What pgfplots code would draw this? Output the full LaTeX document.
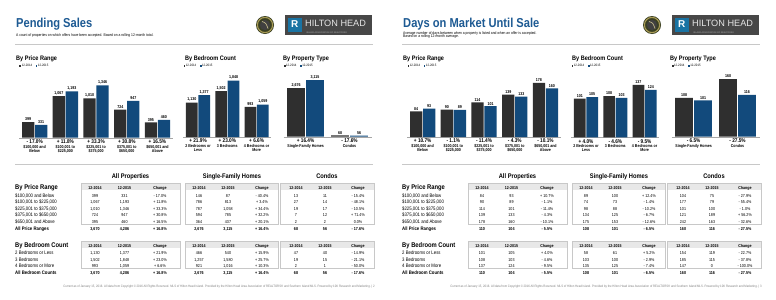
\documentclass[border=0pt]{standalone}
\usepackage{pgfplots}
\pgfplotsset{compat=1.18}
\usepackage{fontspec}
\setmainfont[FakeStretch=0.86]{Liberation Sans}
\newfontfamily\widefont{Liberation Sans}
\definecolor{darkbar}{HTML}{2F2F2F}
\definecolor{bluebar}{HTML}{124A7C}
\definecolor{titleblue}{HTML}{1D5A93}
\definecolor{rulegray}{HTML}{C8C8C8}
\definecolor{hdrgray}{HTML}{E8E8E8}
\definecolor{logogreen}{HTML}{3A3F22}
\definecolor{logogold}{HTML}{A89B55}
\newcommand\fs[1]{\fontsize{#1}{#1}\selectfont}

\pgfplotsset{
 bc/.style={
  ybar=#1, scale only axis, clip=false,
  axis x line*=bottom, axis y line=none,
  x axis line style={draw=gray!70, line width=0.4bp},
  ymin=0, major tick length=0pt,
  xticklabel style={align=center, font=\fs{4.2}\bfseries, inner sep=0.6bp, yshift=-1.2bp},
  nodes near coords,
  every node near coord/.append style={font=\fs{4.2}\bfseries, text=black, inner sep=1bp},
  /pgf/number format/assume math mode=true,
  /pgf/number format/1000 sep={,},
  legend columns=2,
  legend style={at={(0,1)}, anchor=south west, draw=none, fill=none, font=\fs{3.3},
    inner sep=0pt, yshift=1.5bp, /tikz/every even column/.append style={column sep=3bp},
    nodes={inner sep=0.5bp}},
  legend image code/.code={\fill[##1] (0bp,-0.9bp) rectangle (1.8bp,0.9bp);},
 },
 bc/.default=0.7bp,
 dk/.style={fill=darkbar, draw=none},
 bl/.style={fill=bluebar, draw=none},
}

\tikzset{
 tv/.style={anchor=mid, font=\fs{4.3}, inner sep=0},
 tl/.style={anchor=mid west, font=\fs{5}, inner sep=0},
 th/.style={anchor=mid, font=\fs{4.2}\bfseries, inner sep=0},
}
\newcommand\tri[7]{\node[tv] at (#1,#4) {#5};\node[tv] at (#2,#4) {#6};\node[tv] at (#3,#4) {#7};}
\newcommand\TA[4]{\tri{95}{124.5}{160}{#1}{#2}{#3}{#4}}
\newcommand\TS[4]{\tri{199}{228}{262}{#1}{#2}{#3}{#4}}
\newcommand\TC[4]{\tri{296}{325}{358}{#1}{#2}{#3}{#4}}
\newcommand\lbl[2]{\node[tl] at (15,#1) {#2};}
\newcommand\tbox[4]{\fill[hdrgray] (#1,#3) rectangle (#2,{#3+6.5});\draw[rulegray, line width=0.5bp] (#1,#3) rectangle (#2,#4);}
\newcommand\hdrs[1]{%
 \node[th] at (95,#1) {12-2014};\node[th] at (124.5,#1) {12-2015};\node[th] at (160,#1) {Change};
 \node[th] at (199,#1) {12-2014};\node[th] at (228,#1) {12-2015};\node[th] at (262,#1) {Change};
 \node[th] at (296,#1) {12-2014};\node[th] at (325,#1) {12-2015};\node[th] at (358,#1) {Change};}
\newcommand\skel{%
 \draw[rulegray, line width=0.8bp] (15,44) -- (373,44);
 \draw[rulegray, line width=0.8bp] (15,164.5) -- (373,164.5);
 \node[anchor=base west, font=\fs{6.5}\bfseries, inner sep=0] at (16,60.8) {By Price Range};
 \node[anchor=base west, font=\fs{6.5}\bfseries, inner sep=0] at (185,60.8) {By Bedroom Count};
 \node[anchor=base west, font=\fs{6.5}\bfseries, inner sep=0] at (283,60.8) {By Property Type};
 % logos
 \fill[logogreen] (265,25) circle (9bp);
 \draw[logogold, line width=1.1bp] (265,25) circle (7.6bp);
 \fill[black!75] (265,25) circle (5.2bp);
 \draw[logogold!70!white, line width=0.7bp] (262,21.5) .. controls (266,23) .. (268,28.5);
 \fill[black!72] (285,15) rectangle (372,35);
 \fill[titleblue!85!cyan] (288,18.3) rectangle (301.5,31.5);
 \node[text=white, font=\widefont\fs{10}\bfseries, inner sep=0] at (294.7,24.5) {R};
 \node[text=white!90!black, font=\widefont\fs{9.2}, inner sep=0, anchor=mid west] at (305,23.5) {HILTON HEAD};
 \node[text=white!70!black, font=\widefont\fs{2.2}, inner sep=0, anchor=mid west] at (306,31) {ISLAND ASSOCIATION OF REALTORS\textregistered};
 % tables
 \node[anchor=mid, font=\fs{6.7}\bfseries, inner sep=0] at (130.5,176) {All Properties};
 \node[anchor=mid, font=\fs{6.7}\bfseries, inner sep=0] at (232,176) {Single-Family Homes};
 \node[anchor=mid, font=\fs{6.7}\bfseries, inner sep=0] at (327,176) {Condos};
 \tbox{81}{180}{183.3}{224.3}\tbox{185}{278}{183.3}{224.3}\tbox{280}{374}{183.3}{224.3}
 \tbox{81}{180}{241.7}{268.7}\tbox{185}{278}{241.7}{268.7}\tbox{280}{374}{241.7}{268.7}
 \node[anchor=mid west, font=\fs{6.8}\bfseries, inner sep=0] at (15,186.5) {By Price Range};
 \node[anchor=mid west, font=\fs{6.8}\bfseries, inner sep=0] at (15,245) {By Bedroom Count};
 \hdrs{186.5}\hdrs{245}
 \lbl{194.5}{\$100,000 and Below}
 \lbl{201.1}{\$100,001 to \$225,000}
 \lbl{207.7}{\$225,001 to \$375,000}
 \lbl{214.3}{\$375,001 to \$650,000}
 \lbl{220.9}{\$650,001 and Above}
 \lbl{227.5}{\bfseries All Price Ranges}
 \lbl{252.3}{2 Bedrooms or Less}
 \lbl{258.8}{3 Bedrooms}
 \lbl{265.3}{4 Bedrooms or More}
 \lbl{272}{\bfseries All Bedroom Counts}
}

\begin{document}
\begin{tikzpicture}[x=1bp,y=-1bp]
\path[use as bounding box, fill=white] (0,0) rectangle (776,299);

% ================= LEFT PAGE =================
\skel
\node[anchor=base west, font=\fs{13}\bfseries, text=titleblue, inner sep=0] at (16,27.6) {Pending Sales};
\node[anchor=mid west, font=\fs{3.9}, inner sep=0] at (16,34) {A count of properties on which offers have been accepted. Based on a rolling 12-month total.};

\TA{194.5}{399}{331}{- 17.0\%}
\TA{201.1}{1,067}{1,193}{+ 11.8\%}
\TA{207.7}{1,010}{1,346}{+ 33.3\%}
\TA{214.3}{724}{947}{+ 30.8\%}
\TA{220.9}{395}{460}{+ 16.5\%}
\TA{227.5}{\bfseries 3,670}{\bfseries 4,286}{\bfseries + 16.8\%}
\TS{194.5}{146}{87}{- 40.4\%}
\TS{201.1}{786}{813}{+ 3.4\%}
\TS{207.7}{787}{1,058}{+ 34.4\%}
\TS{214.3}{594}{785}{+ 32.2\%}
\TS{220.9}{364}{437}{+ 20.1\%}
\TS{227.5}{\bfseries 2,676}{\bfseries 3,115}{\bfseries + 16.4\%}
\TC{194.5}{13}{11}{- 15.4\%}
\TC{201.1}{27}{14}{- 48.1\%}
\TC{207.7}{19}{17}{- 10.5\%}
\TC{214.3}{7}{12}{+ 71.4\%}
\TC{220.9}{2}{2}{0.0\%}
\TC{227.5}{\bfseries 68}{\bfseries 56}{\bfseries - 17.6\%}
\TA{252.3}{1,130}{1,377}{+ 21.9\%}
\TA{258.8}{1,502}{1,848}{+ 23.0\%}
\TA{265.3}{993}{1,059}{+ 6.6\%}
\TA{272}{\bfseries 3,670}{\bfseries 4,286}{\bfseries + 16.8\%}
\TS{252.3}{466}{540}{+ 15.9\%}
\TS{258.8}{1,257}{1,580}{+ 25.7\%}
\TS{265.3}{921}{1,016}{+ 10.3\%}
\TS{272}{\bfseries 2,676}{\bfseries 3,115}{\bfseries + 16.4\%}
\TC{252.3}{47}{40}{- 14.9\%}
\TC{258.8}{19}{15}{- 21.1\%}
\TC{265.3}{2}{1}{- 50.0\%}
\TC{272}{\bfseries 68}{\bfseries 56}{\bfseries - 17.6\%}
\node[anchor=mid east, font=\fs{3.3}, text=gray, inner sep=0] at (375,284.5) {Current as of January 15, 2016. All data from Copyright \textcopyright{} 2016 All Rights Reserved. MLS of Hilton Head Island. Provided by the Hilton Head Area Association of REALTORS\textregistered{} and Southern Island MLS. Powered by 10K Research and Marketing. | 2};

\begin{axis}[bc, at={(19.3bp,-137.7bp)}, anchor=south west, width=153.5bp, height=67.7bp,
  xmin=-0.5, xmax=4.5, ymax=1740, bar width=12.3bp, xtick={0,...,4},
  xticklabels={{{\fs{5.5}- 17.0\%}\\[0.4bp]\$100,000 and\\Below},
               {{\fs{5.5}+ 11.8\%}\\[0.4bp]\$100,001 to\\\$225,000},
               {{\fs{5.5}+ 33.3\%}\\[0.4bp]\$225,001 to\\\$375,000},
               {{\fs{5.5}+ 30.8\%}\\[0.4bp]\$375,001 to\\\$650,000},
               {{\fs{5.5}+ 16.5\%}\\[0.4bp]\$650,001 and\\Above}}]
\addplot[dk] coordinates {(0,399) (1,1067) (2,1010) (3,724) (4,395)};
\addplot[bl] coordinates {(0,331) (1,1193) (2,1346) (3,947) (4,460)};
\legend{12-2014,12-2015}
\end{axis}

\begin{axis}[bc, at={(183.35bp,-137bp)}, anchor=south west, width=87.9bp, height=67bp,
  xmin=-0.5, xmax=2.5, ymax=2199, bar width=11.7bp, xtick={0,1,2},
  xticklabels={{{\fs{5.5}+ 21.9\%}\\[0.4bp]2 Bedrooms or\\Less},
               {{\fs{5.5}+ 23.0\%}\\[0.4bp]3 Bedrooms},
               {{\fs{5.5}+ 6.6\%}\\[0.4bp]4 Bedrooms or\\More}}]
\addplot[dk] coordinates {(0,1130) (1,1502) (2,993)};
\addplot[bl] coordinates {(0,1377) (1,1848) (2,1059)};
\legend{12-2014,12-2015}
\end{axis}

\begin{axis}[bc=1.3bp, at={(283.6bp,-136.7bp)}, anchor=south west, width=87.9bp, height=66.7bp,
  xmin=-0.5, xmax=1.5, ymax=3665, bar width=17.7bp, xtick={0,1},
  xticklabels={{{\fs{5.5}+ 16.4\%}\\[0.4bp]Single-Family Homes},
               {{\fs{5.5}- 17.6\%}\\[0.4bp]Condos}}]
\addplot[dk] coordinates {(0,2676) (1,68)};
\addplot[bl] coordinates {(0,3115) (1,56)};
\legend{12-2014,12-2015}
\end{axis}

% ================= RIGHT PAGE =================
\begin{scope}[xshift=387bp]
\skel
\node[anchor=base west, font=\fs{13}\bfseries, text=titleblue, inner sep=0] at (16,27.6) {Days on Market Until Sale};
\node[anchor=mid west, font=\fs{3.9}, inner sep=0, align=left] at (16,35.3) {Average number of days between when a property is listed and when an offer is accepted.\\Based on a rolling 12-month average.};

\TA{194.5}{84}{93}{+ 10.7\%}
\TA{201.1}{90}{89}{- 1.1\%}
\TA{207.7}{114}{101}{- 11.4\%}
\TA{214.3}{139}{133}{- 4.3\%}
\TA{220.9}{178}{160}{- 10.1\%}
\TA{227.5}{\bfseries 110}{\bfseries 104}{\bfseries - 5.5\%}
\TS{194.5}{89}{100}{+ 12.4\%}
\TS{201.1}{74}{73}{- 1.4\%}
\TS{207.7}{98}{88}{- 10.2\%}
\TS{214.3}{134}{125}{- 6.7\%}
\TS{220.9}{175}{153}{- 12.6\%}
\TS{227.5}{\bfseries 108}{\bfseries 101}{\bfseries - 6.5\%}
\TC{194.5}{104}{75}{- 27.9\%}
\TC{201.1}{177}{79}{- 55.4\%}
\TC{207.7}{101}{100}{- 1.0\%}
\TC{214.3}{121}{189}{+ 56.2\%}
\TC{220.9}{242}{163}{- 32.6\%}
\TC{227.5}{\bfseries 160}{\bfseries 116}{\bfseries - 27.5\%}
\TA{252.3}{101}{105}{+ 4.0\%}
\TA{258.8}{108}{103}{- 4.6\%}
\TA{265.3}{137}{124}{- 9.5\%}
\TA{272}{\bfseries 110}{\bfseries 104}{\bfseries - 5.5\%}
\TS{252.3}{58}{61}{+ 5.2\%}
\TS{258.8}{103}{100}{- 2.9\%}
\TS{265.3}{135}{125}{- 7.4\%}
\TS{272}{\bfseries 108}{\bfseries 101}{\bfseries - 6.5\%}
\TC{252.3}{154}{119}{- 22.7\%}
\TC{258.8}{185}{115}{- 37.8\%}
\TC{265.3}{147}{0}{- 100.0\%}
\TC{272}{\bfseries 160}{\bfseries 116}{\bfseries - 27.5\%}
\node[anchor=mid east, font=\fs{3.3}, text=gray, inner sep=0] at (375,284.5) {Current as of January 15, 2016. All data from Copyright \textcopyright{} 2016 All Rights Reserved. MLS of Hilton Head Island. Provided by the Hilton Head Area Association of REALTORS\textregistered{} and Southern Island MLS. Powered by 10K Research and Marketing. | 3};
\end{scope}

\begin{axis}[bc, at={(407.3bp,-137bp)}, anchor=south west, width=153.5bp, height=67bp,
  xmin=-0.5, xmax=4.5, ymax=220, bar width=12.3bp, xtick={0,...,4},
  xticklabels={{{\fs{5.5}+ 10.7\%}\\[0.4bp]\$100,000 and\\Below},
               {{\fs{5.5}- 1.1\%}\\[0.4bp]\$100,001 to\\\$225,000},
               {{\fs{5.5}- 11.4\%}\\[0.4bp]\$225,001 to\\\$375,000},
               {{\fs{5.5}- 4.3\%}\\[0.4bp]\$375,001 to\\\$650,000},
               {{\fs{5.5}- 10.1\%}\\[0.4bp]\$650,001 and\\Above}}]
\addplot[dk] coordinates {(0,84) (1,90) (2,114) (3,139) (4,178)};
\addplot[bl] coordinates {(0,93) (1,89) (2,101) (3,133) (4,160)};
\legend{12-2014,12-2015}
\end{axis}

\begin{axis}[bc, at={(571.35bp,-137.3bp)}, anchor=south west, width=87.9bp, height=67.3bp,
  xmin=-0.5, xmax=2.5, ymax=176, bar width=11.7bp, xtick={0,1,2},
  xticklabels={{{\fs{5.5}+ 4.0\%}\\[0.4bp]2 Bedrooms or\\Less},
               {{\fs{5.5}- 4.6\%}\\[0.4bp]3 Bedrooms},
               {{\fs{5.5}- 9.5\%}\\[0.4bp]4 Bedrooms or\\More}}]
\addplot[dk] coordinates {(0,101) (1,108) (2,137)};
\addplot[bl] coordinates {(0,105) (1,103) (2,124)};
\legend{12-2014,12-2015}
\end{axis}

\begin{axis}[bc=1.3bp, at={(671.6bp,-136.7bp)}, anchor=south west, width=87.9bp, height=66.7bp,
  xmin=-0.5, xmax=1.5, ymax=185, bar width=17.7bp, xtick={0,1},
  xticklabels={{{\fs{5.5}- 6.5\%}\\[0.4bp]Single-Family Homes},
               {{\fs{5.5}- 27.5\%}\\[0.4bp]Condos}}]
\addplot[dk] coordinates {(0,108) (1,160)};
\addplot[bl] coordinates {(0,101) (1,116)};
\legend{12-2014,12-2015}
\end{axis}
\end{tikzpicture}
\end{document}
